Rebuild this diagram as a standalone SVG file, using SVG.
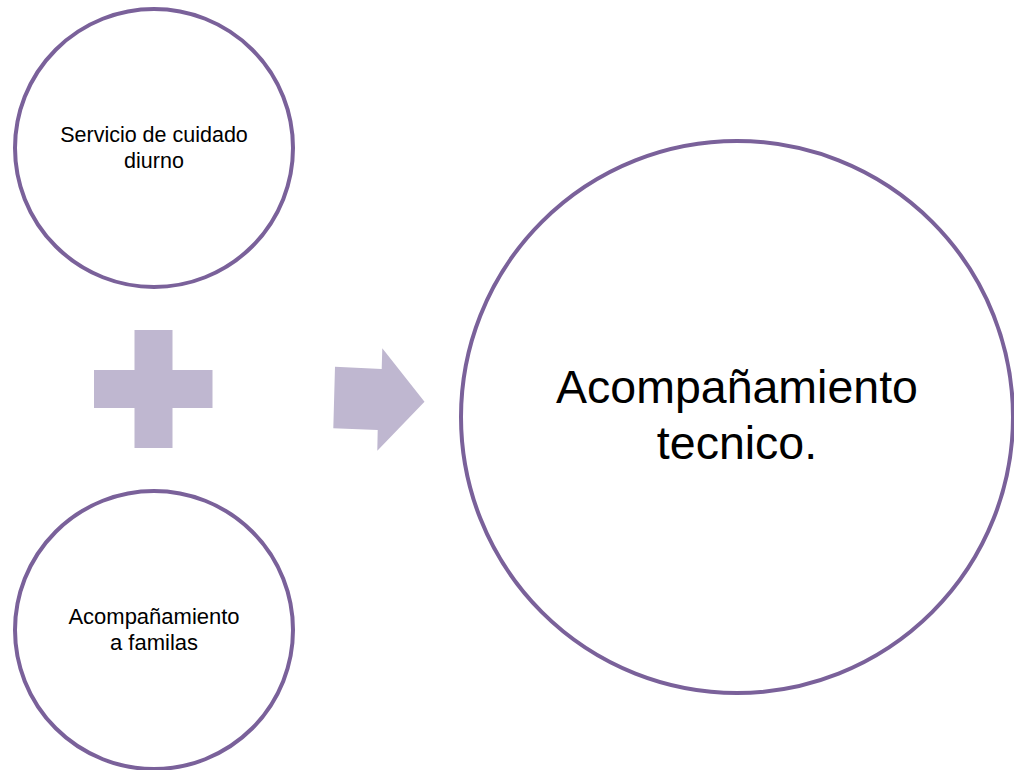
<svg xmlns="http://www.w3.org/2000/svg" width="1014" height="770" viewBox="0 0 1014 770">
<style>
.node{fill:#FFFFFF;stroke:#7A619A;stroke-width:4}
.lbl{font-family:"Liberation Sans",Arial,sans-serif;fill:#000000;text-anchor:middle}
.sym{fill:#BFB7D0}
</style>
<rect width="1014" height="770" fill="#FFFFFF"/>
<g id="node-servicio">
<circle class="node" cx="154" cy="148" r="139"/>
<text class="lbl" font-size="21.5" x="154" y="142">Servicio de cuidado</text>
<text class="lbl" font-size="21.5" x="154" y="168">diurno</text>
</g>
<g id="node-familias">
<circle class="node" cx="154" cy="630" r="139"/>
<text class="lbl" font-size="22" x="154" y="624">Acompañamiento</text>
<text class="lbl" font-size="22" x="154" y="650">a familas</text>
</g>
<g id="node-tecnico">
<circle class="node" cx="737" cy="417" r="276"/>
<text class="lbl" font-size="46.5" x="737" y="403">Acompañamiento</text>
<text class="lbl" font-size="46.5" x="737" y="459">tecnico.</text>
</g>
<g id="connectors">
<path class="sym" d="M134.5 330H172.5V370H212.5V408H172.5V448H134.5V408H94V370H134.5Z"/>
<polygon class="sym" points="335,366.7 381.7,369 382.3,348.3 424.5,401.7 377.3,450.7 377.7,430 333.3,428.3"/>
</g>
</svg>
